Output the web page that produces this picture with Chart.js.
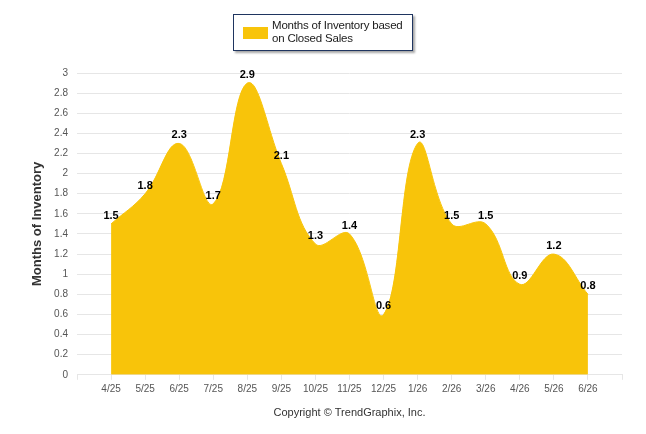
<!DOCTYPE html>
<html>
<head>
<meta charset="utf-8">
<script src="https://cdn.jsdelivr.net/npm/chart.js@4.4.1/dist/chart.umd.min.js"></script>
<style>
  body { margin: 0; background: #fff; }
  #wrap { position: relative; width: 646px; height: 434px; }
  #legend {
    position: absolute; left: 233px; top: 14px; width: 178px; height: 35px;
    border: 1px solid #1f3560; box-shadow: 2px 2px 2px rgba(0,0,0,0.35);
    background: #fff; font: 11.5px "Liberation Sans", Arial, sans-serif; color: #1a1a1a;
  }
  #legend .swatch { position: absolute; left: 9px; top: 12px; width: 25px; height: 12px; background: #F8C40A; }
  #legend .txt { position: absolute; left: 38px; top: 4px; line-height: 13px; white-space: nowrap; letter-spacing: -0.2px; }
</style>
</head>
<body>
<div id="wrap">
  <canvas id="inventoryChart" width="646" height="434"></canvas>
  <div id="legend"><div class="swatch"></div><div class="txt">Months of Inventory based<br>on Closed Sales</div></div>
</div>
<script>
const months = ['4/25', '5/25', '6/25', '7/25', '8/25', '9/25', '10/25', '11/25', '12/25', '1/26', '2/26', '3/26', '4/26', '5/26', '6/26'];
const inventory = [1.5, 1.8, 2.3, 1.7, 2.9, 2.1, 1.3, 1.4, 0.6, 2.3, 1.5, 1.5, 0.9, 1.2, 0.8];
const yTicks = [0, 0.2, 0.4, 0.6, 0.8, 1, 1.2, 1.4, 1.6, 1.8, 2, 2.2, 2.4, 2.6, 2.8, 3];

// value labels above each point
const pointLabels = {
    id: 'pointLabels',
    afterDatasetsDraw(chart) {
        const ctx = chart.ctx;
        const meta = chart.getDatasetMeta(0);
        ctx.save();
        ctx.font = 'bold 11px "Liberation Sans", Arial, sans-serif';
        ctx.fillStyle = '#000';
        ctx.textAlign = 'center';
        ctx.textBaseline = 'middle';
        meta.data.forEach(function(pt, i) {
            ctx.fillText(String(inventory[i]), pt.x, pt.y - 8);
        });
        ctx.restore();
    }
};

const ctx = document.getElementById('inventoryChart').getContext('2d');
const inventoryChart = new Chart(ctx, {
    type: 'line',
    data: {
        datasets: [{
            label: 'Months of Inventory based on Closed Sales',
            data: months.map(function(m, i) { return { x: i, y: inventory[i] }; }),
            backgroundColor: '#F8C40A',
            borderColor: '#F8C40A',
            borderWidth: 1,
            fill: 'origin',
            tension: 0.4,
            pointRadius: 0
        }]
    },
    options: {
        responsive: false,
        animation: false,
        layout: { padding: { top: 73, right: 24, bottom: 14, left: 0 } },
        plugins: {
            legend: { display: false },
            tooltip: { enabled: false }
        },
        scales: {
            x: {
                type: 'linear',
                min: -1,
                max: 15,
                afterBuildTicks: function(scale) {
                    scale.ticks = [];
                    for (let i = -1; i <= 15; i++) scale.ticks.push({ value: i });
                },
                ticks: {
                    autoSkip: false,
                    maxRotation: 0,
                    padding: 3,
                    color: '#555',
                    font: { family: '"Liberation Sans", Arial', size: 10 },
                    callback: function(v) { return months[v] || ''; }
                },
                grid: { drawOnChartArea: false, drawTicks: true, tickLength: 5, color: '#e6e6e6' },
                border: { display: true, color: '#e6e6e6' },
                title: {
                    display: true,
                    text: 'Copyright \u00A9 TrendGraphix, Inc.',
                    color: '#333',
                    font: { family: '"Liberation Sans", Arial', size: 11 },
                    padding: { top: 9, bottom: 0 }
                }
            },
            y: {
                min: 0,
                max: 3,
                afterBuildTicks: function(scale) {
                    scale.ticks = yTicks.map(function(v) { return { value: v }; });
                },
                afterFit: function(scale) { scale.width = 77; },
                ticks: {
                    padding: 9,
                    color: '#555',
                    font: { family: '"Liberation Sans", Arial', size: 10 },
                    callback: function(v) { return String(v); }
                },
                grid: { color: '#e6e6e6', drawTicks: false },
                border: { display: false },
                title: {
                    display: true,
                    text: 'Months of Inventory',
                    color: '#333',
                    font: { family: '"Liberation Sans", Arial', size: 13, weight: 'bold' },
                    padding: { top: 30, bottom: 0 }
                }
            }
        }
    },
    plugins: [pointLabels]
});
</script>
</body>
</html>
